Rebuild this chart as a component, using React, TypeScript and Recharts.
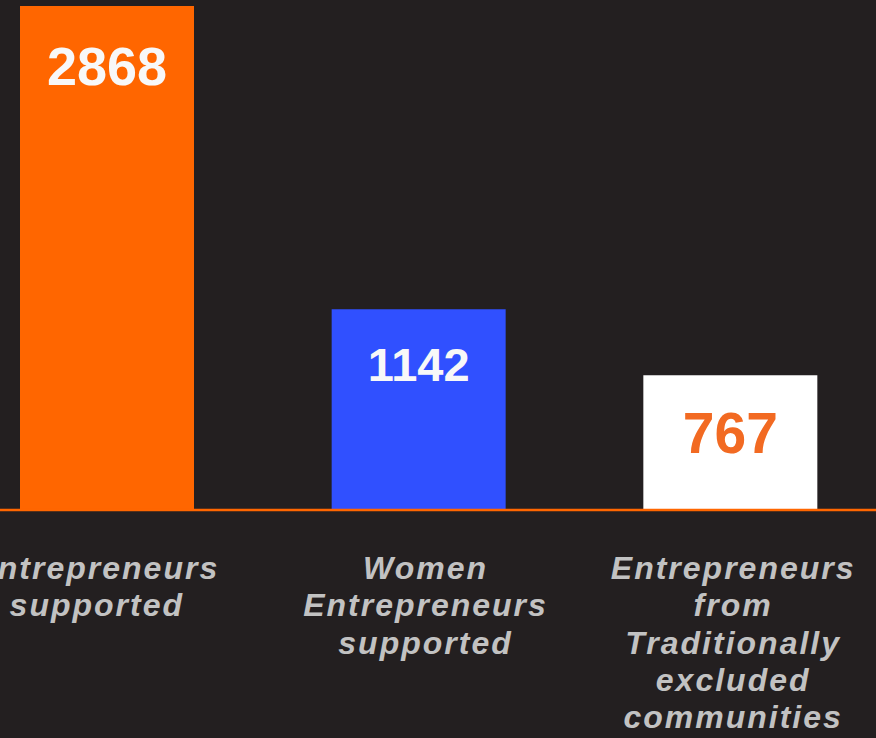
import React from "react";
import { BarChart, Bar, XAxis, YAxis, Cell, LabelList } from "recharts";

const categories = [
  "Entrepreneurs supported",
  "Women Entrepreneurs supported",
  "Entrepreneurs from Traditionally excluded communities",
];
const values = [2868, 1142, 767];
const barColors = ["#ff6600", "#3050ff", "#ffffff"];
const labelColors = ["#f8f8f8", "#f8f8f8", "#f26a22"];
const labelSizes = [54, 47, 57];
const labelOffsets = [60, 55, 58];
const tickShifts = [-10, 7, 3];

const data = categories.map((name, i) => ({ name, value: values[i] }));
const yMax = Math.max(...values);

const ValueLabel = (props: any) => {
  const { x, y, width, index, value } = props;
  return (
    <text
      x={x + width / 2}
      y={y + labelOffsets[index]}
      textAnchor="middle"
      dominantBaseline="central"
      fill={labelColors[index]}
      fontFamily="'Liberation Sans', Arial, sans-serif"
      fontWeight="bold"
      fontSize={labelSizes[index]}
    >
      {value}
    </text>
  );
};

const CategoryTick = (props: any) => {
  const { x, y, payload, index } = props;
  const words = String(payload.value).split(" ");
  const cx = x + (tickShifts[index] || 0);
  return (
    <text
      x={cx}
      y={y}
      textAnchor="middle"
      fill="#c2c2c2"
      fontFamily="'Liberation Sans', Arial, sans-serif"
      fontWeight="bold"
      fontStyle="italic"
      fontSize={32}
      letterSpacing={2}
    >
      {words.map((w, i) => (
        <tspan key={i} x={cx} y={y + 61 + i * 37.3}>
          {w}
        </tspan>
      ))}
    </text>
  );
};

export default function App() {
  return (
    <div
      style={{
        position: "absolute",
        left: 0,
        top: 0,
        width: 876,
        height: 738,
        overflow: "hidden",
        background: "#231f20",
      }}
    >
      <div style={{ position: "absolute", left: -49, top: 0 }}>
        <BarChart
          width={935}
          height={738}
          data={data}
          margin={{ top: 6, right: 0, bottom: 28, left: 0 }}
        >
          <YAxis hide domain={[0, yMax]} allowDataOverflow />
          <Bar dataKey="value" barSize={174} isAnimationActive={false}>
            {data.map((d, i) => (
              <Cell key={d.name} fill={barColors[i]} />
            ))}
            <LabelList dataKey="value" content={<ValueLabel />} />
          </Bar>
          <XAxis
            dataKey="name"
            height={200}
            axisLine={{ stroke: "#ff6600", strokeWidth: 2.5 }}
            tickLine={false}
            tick={<CategoryTick />}
            interval={0}
          />
        </BarChart>
      </div>
    </div>
  );
}
